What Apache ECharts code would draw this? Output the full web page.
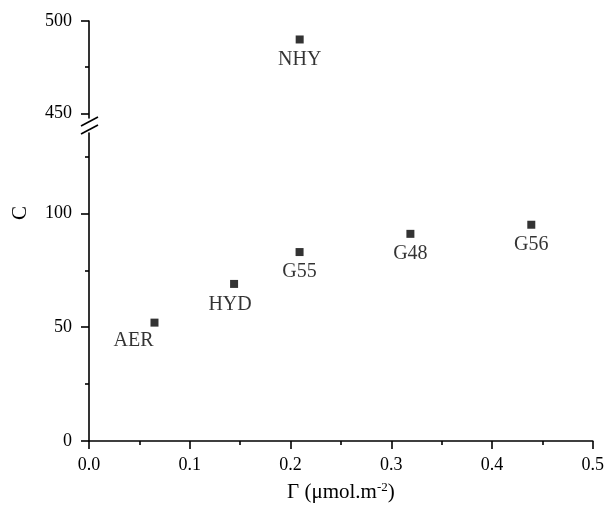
<!DOCTYPE html>
<html>
<head>
<meta charset="utf-8">
<script src="https://cdn.jsdelivr.net/npm/echarts@6.0.0/dist/echarts.min.js"></script>
<style>
  html, body { margin: 0; padding: 0; background: #fff; }
  #chart { width: 607px; height: 509px; }
</style>
</head>
<body>
<div id="chart"></div>
<script>
// samples and their values
var sampleNames = ['AER', 'HYD', 'G55', 'G48', 'G56', 'NHY'];
var gammaValues = [0.065, 0.144, 0.209, 0.319, 0.439, 0.209];
var cValues = [52, 69, 83, 91, 95, 490];

var xTicks = [0, 0.1, 0.2, 0.3, 0.4, 0.5];
var lowerMajor = [0, 50, 100];
var lowerMinor = [25, 75, 125];
var upperMajor = [450, 500];
var upperMinor = [475];

var FONT = '"Liberation Serif", "Times New Roman", serif';
var INK = '#000';

// upper panel holds the points above the break
var lowerPts = [], upperPts = [];
sampleNames.forEach(function (n, i) {
    var p = { name: n, value: [gammaValues[i], cValues[i]] };
    if (cValues[i] > 300) upperPts.push(p); else lowerPts.push(p);
});

// a couple of labels sit a bit off-centre in the original
var labelShift = { AER: [-21, -2], HYD: [-4, 1] };
function withLabel(p) {
    var off = labelShift[p.name] || [0, 0];
    p.label = { offset: off };
    return p;
}

function mainY(grid, min, max, major) {
    return {
        type: 'value', gridIndex: grid, min: min, max: max, position: 'left',
        axisLine: { show: true, lineStyle: { color: INK, width: 1.6 } },
        axisTick: { show: true, length: 8, customValues: major, lineStyle: { color: INK, width: 1.6 } },
        axisLabel: { customValues: major, margin: 17, color: INK, fontFamily: FONT, fontSize: 18 },
        splitLine: { show: false }
    };
}
function minorY(grid, min, max, minor) {
    return {
        type: 'value', gridIndex: grid, min: min, max: max, position: 'left',
        axisLine: { show: false },
        axisTick: { show: true, length: 4, customValues: minor, lineStyle: { color: INK, width: 1.6 } },
        axisLabel: { show: false },
        splitLine: { show: false }
    };
}

var chart = echarts.init(document.getElementById('chart'));
chart.setOption({
    animation: false,
    grid: [
        { left: 89, right: 14, top: 133, bottom: 68 },
        { left: 89, right: 14, top: 21, height: 97 }
    ],
    xAxis: [
        {
            type: 'value', gridIndex: 0, min: 0, max: 0.5, interval: 0.1,
            name: '{a|Γ (μmol.m}{s|-2}{a|)}',
            nameLocation: 'middle', nameGap: 40,
            nameTextStyle: {
                rich: {
                    a: { fontFamily: FONT, fontSize: 21, color: INK, lineHeight: 22 },
                    s: { fontFamily: FONT, fontSize: 13, color: INK, lineHeight: 22, verticalAlign: 'top' }
                }
            },
            axisLine: { lineStyle: { color: INK, width: 1.6 } },
            axisTick: { length: 8, lineStyle: { color: INK, width: 1.6 } },
            minorTick: { show: true, splitNumber: 2, length: 4, lineStyle: { color: INK, width: 1.6 } },
            axisLabel: {
                margin: 15, color: INK, fontFamily: FONT, fontSize: 18,
                customValues: xTicks,
                formatter: function (v) { return v.toFixed(1); }
            },
            splitLine: { show: false }
        },
        { type: 'value', gridIndex: 1, min: 0, max: 0.5, show: false }
    ],
    yAxis: [
        mainY(0, 0, 135.3, lowerMajor),
        minorY(0, 0, 135.3, lowerMinor),
        mainY(1, 447.5, 500, upperMajor),
        minorY(1, 447.5, 500, upperMinor)
    ],
    series: [
        {
            type: 'scatter', xAxisIndex: 0, yAxisIndex: 0,
            symbol: 'rect', symbolSize: 8,
            itemStyle: { color: '#000' },
            label: {
                show: true, position: 'bottom', distance: 6,
                formatter: '{b}', color: INK, fontFamily: FONT, fontSize: 20
            },
            data: lowerPts.map(withLabel)
        },
        {
            type: 'scatter', xAxisIndex: 1, yAxisIndex: 2,
            symbol: 'rect', symbolSize: 8,
            itemStyle: { color: '#000' },
            label: {
                show: true, position: 'bottom', distance: 6,
                formatter: '{b}', color: INK, fontFamily: FONT, fontSize: 20
            },
            data: upperPts.map(withLabel)
        }
    ],
    graphic: [
        {
            type: 'text', x: 20, y: 213, rotation: Math.PI / 2,
            style: { text: 'C', fontFamily: FONT, fontSize: 21, fill: INK, align: 'center', verticalAlign: 'middle' }
        },
        // axis break marks
        { type: 'line', shape: { x1: 81, y1: 126, x2: 98, y2: 117 }, style: { stroke: INK, lineWidth: 1.6 } },
        { type: 'line', shape: { x1: 81, y1: 134, x2: 98, y2: 125 }, style: { stroke: INK, lineWidth: 1.6 } }
    ]
});
</script>
</body>
</html>
